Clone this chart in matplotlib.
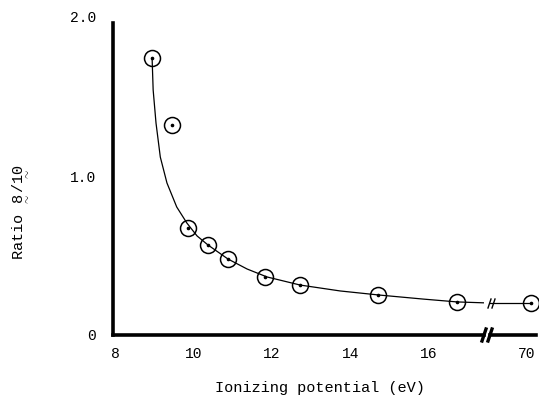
import numpy as np
import matplotlib
matplotlib.use("Agg")
import matplotlib.pyplot as plt
from matplotlib.transforms import ScaledTranslation

plt.rcParams['font.family'] = ['Liberation Mono', 'DejaVu Sans Mono']
plt.rcParams['mathtext.fontset'] = 'custom'
plt.rcParams['mathtext.rm'] = 'Liberation Mono'
plt.rcParams['mathtext.tt'] = 'Liberation Mono'

# measured points
ion_potential = [8.93, 9.44, 9.85, 10.36, 10.87, 11.82, 12.72, 14.71, 16.73, 70]
ratio = [1.742, 1.321, 0.673, 0.566, 0.478, 0.365, 0.314, 0.252, 0.208, 0.201]

# smooth curve drawn through the data
curve_x = [8.93, 8.957, 9.03, 9.14, 9.31, 9.56, 9.82, 10.08, 10.36, 10.87,
           11.36, 11.87, 12.72, 13.74, 14.71, 15.86, 16.73, 17.57, 70]
curve_y = [1.742, 1.541, 1.333, 1.119, 0.956, 0.805, 0.704, 0.623, 0.566, 0.478,
           0.415, 0.365, 0.314, 0.277, 0.252, 0.226, 0.208, 0.201, 0.201]

xticks_main = [8, 10, 12, 14, 16]
xticks_tail = [70]
yticks = [0, 1.0, 2.0]
ytick_labels = ['0', '1.0', '2.0']

W, H = 539, 397
fig = plt.figure(figsize=(W / 100, H / 100), dpi=100)

pxu = 39.1  # px per eV
axL_left, axL_right = 113, 484
axR_left, axR_right = 490, 536
ax_bottom, ax_top = 335, 17

axL = fig.add_axes([axL_left / W, (H - ax_bottom) / H,
                    (axL_right - axL_left) / W, (ax_bottom - ax_top) / H])
axR = fig.add_axes([axR_left / W, (H - ax_bottom) / H,
                    (axR_right - axR_left) / W, (ax_bottom - ax_top) / H],
                   sharey=axL)

x0 = 7.93
axL.set_xlim(x0, x0 + (axL_right - axL_left) / pxu)
axR.set_xlim(70 - (531 - axR_left) / pxu, 70 + (axR_right - 531) / pxu)
axL.set_ylim(0, 2.0)

for ax in (axL, axR):
    ax.plot(curve_x, curve_y, color='black', lw=0.9, zorder=2)
    ax.plot(ion_potential, ratio, linestyle='none', marker='o', ms=11.5,
            mfc='none', mec='black', mew=1.1, zorder=3, clip_on=False)
    ax.plot(ion_potential, ratio, linestyle='none', marker='o', ms=1.6,
            mfc='black', mec='black', zorder=4, clip_on=False)
    ax.spines['top'].set_visible(False)
    ax.spines['right'].set_visible(False)
    ax.spines['bottom'].set_linewidth(2.6)
    ax.tick_params(length=0, labelsize=10.5, pad=9)
    ax.patch.set_visible(False)

axL.spines['left'].set_linewidth(2.6)
axL.spines['left'].set_bounds(0, 1.96)
axL.set_yticks(yticks)
axL.set_yticklabels(ytick_labels)
axL.tick_params(axis='y', pad=12)
axL.set_xticks(xticks_main)

axR.spines['left'].set_visible(False)
axR.tick_params(axis='y', left=False, labelleft=False)
axR.set_xticks(xticks_tail)
for lbl in axR.get_xticklabels():
    lbl.set_transform(lbl.get_transform() + ScaledTranslation(-4 / 100, 0, fig.dpi_scale_trans))

# break marks on the x axis
trans = fig.transFigure
for px in (484, 490):
    fig.lines.append(plt.Line2D([(px - 2) / W, (px + 2) / W],
                                [(H - 341) / H, (H - 329) / H],
                                transform=trans, color='black', lw=2.4))
# break marks on the curve
for px in (489.5, 493.5):
    fig.lines.append(plt.Line2D([(px - 1.5) / W, (px + 1.5) / W],
                                [(H - 308) / H, (H - 299) / H],
                                transform=trans, color='black', lw=1.0))

axL.set_xlabel('Ionizing potential (eV)', fontsize=11)
axL.xaxis.set_label_coords((320 - axL_left) / (axL_right - axL_left),
                           (ax_bottom - 381) / (ax_bottom - ax_top))
axL.set_ylabel(r'Ratio $\underset{\sim}{8}/\underset{\sim}{10}$', fontsize=11)
axL.yaxis.set_label_coords((30 - axL_left) / (axL_right - axL_left),
                           (ax_bottom - 212) / (ax_bottom - ax_top))

fig.savefig('out.png', dpi=100)
